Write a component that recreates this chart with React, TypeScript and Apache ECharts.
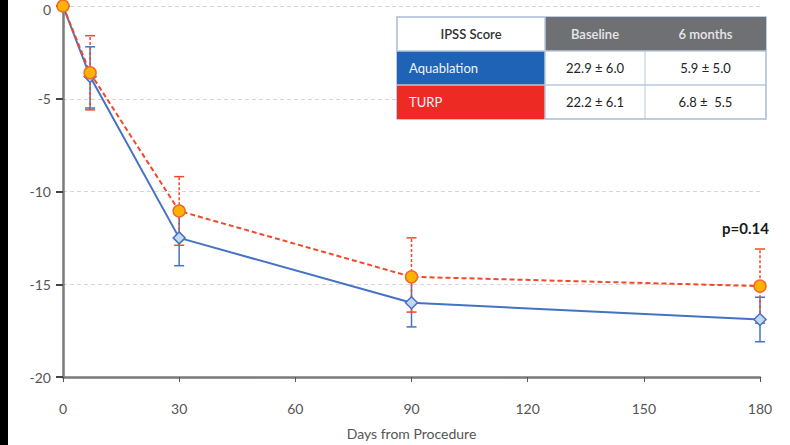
import React, { useEffect, useRef } from "react";
import * as echarts from "echarts";

const days = [0, 7, 30, 90, 180];
const xTicks = [0, 30, 60, 90, 120, 150, 180];
const aquaMean = [0, -3.8, -12.5, -16.0, -16.9];
const aquaLow = [0, -5.5, -14.0, -17.3, -18.1];
const aquaHigh = [0, -2.2, -11.0, -14.7, -15.7];
const turpMean = [0, -3.6, -11.05, -14.6, -15.1];
const turpLow = [0, -5.6, -12.9, -16.5, -17.1];
const turpHigh = [0, -1.6, -9.2, -12.5, -13.1];

const tableHeader = ["IPSS Score", "Baseline", "6 months"];
const tableRows = [
  ["Aquablation", "22.9 ± 6.0", "5.9 ± 5.0"],
  ["TURP", "22.2 ± 6.1", "6.8 ±  5.5"],
];
const pLabel = "p=0.14";

const FONT = "Lato, 'Open Sans', sans-serif";
const BLUE = "#4472c4";
const RED = "#f2482a";

function errSeries(low: number[], high: number[], color: string, dashed: boolean) {
  return {
    type: "custom",
    z: 2,
    data: days.map((d, i) => [d, low[i], high[i]]),
    renderItem: (params: any, api: any) => {
      const x = api.value(0);
      const lo = api.coord([x, api.value(1)]);
      const hi = api.coord([x, api.value(2)]);
      const w = 5;
      const style = { stroke: color, lineWidth: 1.5, lineDash: dashed ? [3, 2] : null };
      return {
        type: "group",
        children: [
          { type: "line", shape: { x1: lo[0], y1: lo[1], x2: hi[0], y2: hi[1] }, style },
          { type: "line", shape: { x1: lo[0] - w, y1: lo[1], x2: lo[0] + w, y2: lo[1] }, style: { stroke: color, lineWidth: 1.5 } },
          { type: "line", shape: { x1: hi[0] - w, y1: hi[1], x2: hi[0] + w, y2: hi[1] }, style: { stroke: color, lineWidth: 1.5 } },
        ],
      };
    },
  };
}

export default function App() {
  const ref = useRef<HTMLDivElement>(null);
  useEffect(() => {
    if (!ref.current) return;
    const chart = echarts.init(ref.current, null, { renderer: "svg" });

    const tx = 397, ty = 17;
    const colW = [148, 100, 121];
    const rowH = 34;
    const tableEls: any[] = [];
    tableEls.push({ type: "rect", shape: { x: tx, y: ty, width: 369, height: 102 }, style: { fill: "#fff", stroke: "#a9bcd6", lineWidth: 1.5 }, z: 10 });
    tableEls.push({ type: "rect", shape: { x: tx + colW[0], y: ty, width: colW[1] + colW[2], height: rowH }, style: { fill: "#6f7073" }, z: 11 });
    const rowColors = ["#1f63b6", "#ee2a24"];
    tableRows.forEach((r, i) => {
      const y = ty + rowH + i * rowH;
      tableEls.push({ type: "rect", shape: { x: tx, y, width: colW[0], height: rowH }, style: { fill: rowColors[i] }, z: 11 });
      tableEls.push({ type: "line", shape: { x1: tx, y1: y, x2: tx + 369, y2: y }, style: { stroke: "#b8c7dc", lineWidth: 1.5 }, z: 12 });
      tableEls.push({ type: "text", x: tx + 12, y: y + rowH / 2, style: { text: r[0], fill: "#f2f4f8", font: `13px ${FONT}`, verticalAlign: "middle", align: "left" }, z: 13 });
      tableEls.push({ type: "text", x: tx + colW[0] + colW[1] / 2, y: y + rowH / 2, style: { text: r[1], fill: "#222", font: `13px ${FONT}`, verticalAlign: "middle", align: "center" }, z: 13 });
      tableEls.push({ type: "text", x: tx + colW[0] + colW[1] + colW[2] / 2, y: y + rowH / 2, style: { text: r[2], fill: "#222", font: `13px ${FONT}`, verticalAlign: "middle", align: "center" }, z: 13 });
    });
    tableEls.push({ type: "line", shape: { x1: tx + colW[0], y1: ty, x2: tx + colW[0], y2: ty + 102 }, style: { stroke: "#b8c7dc", lineWidth: 1.5 }, z: 12 });
    tableEls.push({ type: "line", shape: { x1: tx + colW[0] + colW[1], y1: ty + rowH, x2: tx + colW[0] + colW[1], y2: ty + 102 }, style: { stroke: "#b8c7dc", lineWidth: 1 }, z: 12 });
    tableEls.push({ type: "text", x: tx + colW[0] / 2, y: ty + rowH / 2, style: { text: tableHeader[0], fill: "#333", font: `600 13px ${FONT}`, verticalAlign: "middle", align: "center" }, z: 13 });
    tableEls.push({ type: "text", x: tx + colW[0] + colW[1] / 2, y: ty + rowH / 2, style: { text: tableHeader[1], fill: "#e8e8e8", font: `600 13px ${FONT}`, verticalAlign: "middle", align: "center" }, z: 13 });
    tableEls.push({ type: "text", x: tx + colW[0] + colW[1] + colW[2] / 2, y: ty + rowH / 2, style: { text: tableHeader[2], fill: "#e8e8e8", font: `600 13px ${FONT}`, verticalAlign: "middle", align: "center" }, z: 13 });

    chart.setOption({
      animation: false,
      backgroundColor: "#ffffff",
      grid: { left: 63, right: 30, top: 6, bottom: 68, containLabel: false, outerBoundsMode: "none" },
      xAxis: {
        type: "value",
        min: 0,
        max: 180,
        interval: 30,
        name: "Days from Procedure",
        nameLocation: "middle",
        nameGap: 49,
        nameTextStyle: { color: "#555", fontSize: 14, fontFamily: FONT },
        axisLine: { show: true, onZero: false, lineStyle: { color: "#7a7a7a", width: 2.5 } },
        axisTick: { show: true, length: 5, lineStyle: { color: "#555", width: 1 } },
        axisLabel: { color: "#555", fontSize: 14, fontFamily: FONT, margin: 24, formatter: (v: number) => (xTicks.includes(v) ? String(v) : "") },
        splitLine: { show: false },
      },
      yAxis: {
        type: "value",
        min: -20,
        max: 0,
        interval: 5,
        axisLine: { show: true, lineStyle: { color: "#7a7a7a", width: 2.5 } },
        axisTick: { show: true, length: 7, lineStyle: { color: "#444", width: 2 } },
        axisLabel: {
          color: "#555",
          fontSize: 14,
          fontFamily: FONT,
          margin: 12,
          formatter: (v: number) => (v === 0 ? "{top|0}" : String(v)),
          rich: { top: { color: "#555", fontSize: 14, fontFamily: FONT, padding: [6, 0, 0, 0] } },
        },
        splitLine: { show: true, lineStyle: { color: "#d6d6d6", type: [4, 3], width: 1 } },
      },
      series: [
        errSeries(aquaLow, aquaHigh, BLUE, false),
        errSeries(turpLow, turpHigh, RED, true),
        {
          type: "line",
          z: 3,
          data: days.map((d, i) => [d, aquaMean[i]]),
          symbol: "diamond",
          symbolSize: 12,
          lineStyle: { color: BLUE, width: 2 },
          itemStyle: { color: "#c6d8ef", borderColor: BLUE, borderWidth: 1.5 },
        },
        {
          type: "line",
          z: 4,
          data: days.map((d, i) => [d, turpMean[i]]),
          symbol: "circle",
          symbolSize: 12,
          lineStyle: { color: RED, width: 2, type: [5, 3] },
          itemStyle: { color: "#ffb300", borderColor: "#f26a2a", borderWidth: 1.5 },
        },
      ],
      graphic: [
        { type: "text", x: 722, y: 228, style: { text: pLabel, fill: "#1a1a1a", font: `bold 15px ${FONT}`, verticalAlign: "middle", align: "left" }, z: 20 },
        ...tableEls,
      ],
    });
    return () => chart.dispose();
  }, []);
  return (
    <div style={{ position: "absolute", left: 0, top: 0, width: 790, height: 445 }}>
      <div ref={ref} style={{ width: 790, height: 445, position: "absolute", left: 0, top: 0 }} />
      <div style={{ position: "absolute", left: 0, top: 0, width: 8, height: 445, background: "#000" }} />
    </div>
  );
}
